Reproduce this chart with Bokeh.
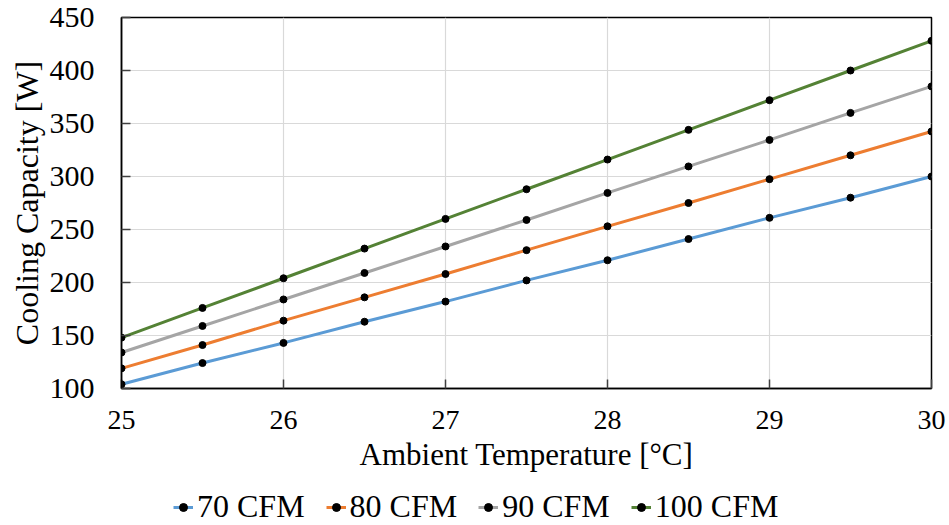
from bokeh.plotting import figure
from bokeh.models import Range1d, Legend, LegendItem, FixedTicker
from bokeh.layouts import column
from bokeh.embed import file_html
from bokeh.resources import INLINE

temps = [25, 25.5, 26, 26.5, 27, 27.5, 28, 28.5, 29, 29.5, 30]
cfm70 = [104, 124, 143, 163, 182, 202, 221, 241, 261, 280, 300]
cfm80 = [119, 141, 164, 186, 208, 230.5, 253, 275, 297.5, 320, 342.5]
cfm90 = [134, 159, 184, 209, 234, 259, 284.5, 309.5, 334.5, 360, 385]
cfm100 = [148, 176, 204, 232, 260, 288, 316, 344, 372, 400, 428]
series_names = ["70 CFM", "80 CFM", "90 CFM", "100 CFM"]
colors = ["#5B9BD5", "#ED7D31", "#A5A5A5", "#548235"]
x_ticks = [25, 26, 27, 28, 29, 30]
y_ticks = [100, 150, 200, 250, 300, 350, 400, 450]

FONT = "Liberation Serif"
series = [cfm70, cfm80, cfm90, cfm100]

p = figure(width=949, height=484, output_backend="svg", toolbar_location=None,
           x_range=Range1d(25, 30), y_range=Range1d(100, 450))
p.min_border_left = 121
p.min_border_right = 18
p.min_border_top = 17
p.min_border_bottom = 96

p.outline_line_color = "black"
p.outline_line_width = 1.5

for ax in (p.xaxis[0], p.yaxis[0]):
    ax.axis_line_color = "black"
    ax.axis_line_width = 1.5
    ax.major_tick_in = 9
    ax.major_tick_out = 0
    ax.major_tick_line_color = "#404040"
    ax.major_tick_line_width = 1.5
    ax.minor_tick_line_color = None
    ax.major_label_text_font = FONT
    ax.major_label_text_color = "black"
    ax.axis_label_text_font = FONT
    ax.axis_label_text_font_style = "normal"
    ax.axis_label_text_color = "black"

p.xaxis[0].major_label_text_font_size = "28px"
p.yaxis[0].major_label_text_font_size = "30px"
p.xaxis[0].axis_label_text_font_size = "31px"
p.yaxis[0].axis_label_text_font_size = "32px"
p.xaxis[0].ticker = FixedTicker(ticks=x_ticks)
p.yaxis[0].ticker = FixedTicker(ticks=y_ticks)
p.xaxis[0].axis_label = "Ambient Temperature [°C]"
p.yaxis[0].axis_label = "Cooling Capacity [W]"
p.xaxis[0].major_label_standoff = 22
p.xaxis[0].axis_label_standoff = 5
p.yaxis[0].major_label_standoff = 27
p.yaxis[0].axis_label_standoff = 2

p.xgrid.grid_line_color = "#D9D9D9"
p.ygrid.grid_line_color = "#D9D9D9"
p.xgrid.grid_line_width = 1.2
p.ygrid.grid_line_width = 1.2

for vals, col in zip(series, colors):
    p.line(temps, vals, line_color=col, line_width=3)
    p.scatter(temps, vals, size=7, fill_color="black", line_color="black")

# Legend strip below the chart
lf = figure(width=949, height=41, output_backend="svg", toolbar_location=None,
            x_range=Range1d(0, 1), y_range=Range1d(0, 1),
            x_axis_location=None, y_axis_location=None)
lf.min_border = 0
lf.outline_line_color = None
lf.xgrid.visible = False
lf.ygrid.visible = False

items = []
for name, vals, col in zip(series_names, series, colors):
    ln = lf.line(temps, vals, line_color=col, line_width=3)
    sc = lf.scatter(temps, vals, size=6, fill_color="black", line_color="black")
    items.append(LegendItem(label=name, renderers=[ln, sc]))

legend = Legend(items=items, orientation="horizontal", location=(52, 0))
legend.label_text_font = FONT
legend.label_text_font_size = "32px"
legend.label_text_color = "black"
legend.glyph_width = 20
legend.glyph_height = 20
legend.label_standoff = 4
legend.spacing = 21
legend.border_line_color = None
legend.background_fill_alpha = 0
legend.padding = 0
legend.margin = 0
lf.add_layout(legend, "center")

layout = column(p, lf, spacing=0)
open("out.html", "w").write(file_html(layout, INLINE))
